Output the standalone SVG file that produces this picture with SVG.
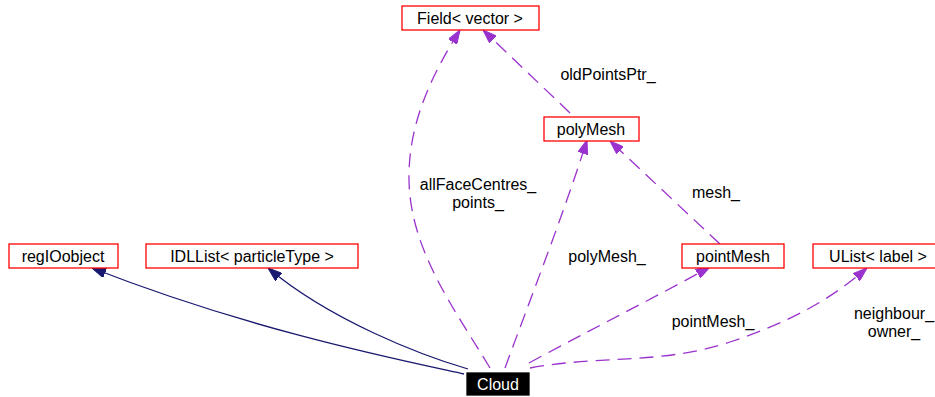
<svg xmlns="http://www.w3.org/2000/svg" width="935" height="397" viewBox="0 0 935 397">
  <style>
    text { font-family: "Liberation Sans", Arial, sans-serif; font-size: 16px; fill: #000; text-anchor: middle; }
    .node rect { fill: #fff; stroke: #ff0000; stroke-width: 1.3; }
    .node.main rect { fill: #000; stroke: #000; }
    .node.main text { fill: #fff; }
    .inherit { fill: none; stroke: #191970; stroke-width: 1.3; }
    .usage { fill: none; stroke: #9a32cd; stroke-width: 1.3; stroke-dasharray: 14 8; }
  </style>
  <defs>
    <marker id="arrowNavy" viewBox="0 0 14 10" refX="14" refY="5" markerWidth="14" markerHeight="10" markerUnits="userSpaceOnUse" orient="auto">
      <path d="M0,0 L14,5 L0,10 Z" fill="#191970" stroke="#191970"/>
    </marker>
    <marker id="arrowPurple" viewBox="0 0 14 10" refX="14" refY="5" markerWidth="14" markerHeight="10" markerUnits="userSpaceOnUse" orient="auto">
      <path d="M0,0 L14,5 L0,10 Z" fill="#9a32cd" stroke="#9a32cd"/>
    </marker>
  </defs>

  <g id="edges">
    <path class="inherit" d="M464,374 C400,360 250,330 92,268" marker-end="url(#arrowNavy)"/>
    <path class="inherit" d="M468,369 C420,355 330,320 268,268" marker-end="url(#arrowNavy)"/>
    <path class="usage" d="M490,368 C455,310 410,250 409,180 C408,120 435,70 460,30" marker-end="url(#arrowPurple)"/>
    <path class="usage" d="M570,113 L483,30" marker-end="url(#arrowPurple)"/>
    <path class="usage" d="M505,368 C530,300 565,210 587,140" marker-end="url(#arrowPurple)"/>
    <path class="usage" d="M720,244 L610,141" marker-end="url(#arrowPurple)"/>
    <path class="usage" d="M529,363 C590,330 650,300 710,267" marker-end="url(#arrowPurple)"/>
    <path class="usage" d="M530,368 C600,355 660,365 730,342 C790,322 830,300 867,268" marker-end="url(#arrowPurple)"/>
    <text x="608" y="80">oldPointsPtr_</text>
    <text x="478" y="190">allFaceCentres_</text>
    <text x="478" y="208">points_</text>
    <text x="607" y="262">polyMesh_</text>
    <text x="716" y="198">mesh_</text>
    <text x="713" y="327">pointMesh_</text>
    <text x="894" y="319">neighbour_</text>
    <text x="894" y="337">owner_</text>
  </g>

  <g id="node-field-vector" class="node">
    <rect x="402" y="6" width="137" height="24"/>
    <text x="470" y="24">Field&lt; vector &gt;</text>
  </g>
  <g id="node-polyMesh" class="node">
    <rect x="544" y="117" width="95" height="24"/>
    <text x="591" y="135">polyMesh</text>
  </g>
  <g id="node-regIOobject" class="node">
    <rect x="9" y="244" width="109" height="24"/>
    <text x="63" y="262">regIOobject</text>
  </g>
  <g id="node-IDLList" class="node">
    <rect x="146" y="244" width="212" height="24"/>
    <text x="252" y="262">IDLList&lt; particleType &gt;</text>
  </g>
  <g id="node-pointMesh" class="node">
    <rect x="682" y="244" width="102" height="24"/>
    <text x="733" y="262">pointMesh</text>
  </g>
  <g id="node-UList-label" class="node">
    <rect x="813" y="244" width="130" height="24"/>
    <text x="878" y="262">UList&lt; label &gt;</text>
  </g>
  <g id="node-Cloud" class="node main">
    <rect x="467" y="373" width="62" height="22"/>
    <text x="498" y="390">Cloud</text>
  </g>
</svg>
